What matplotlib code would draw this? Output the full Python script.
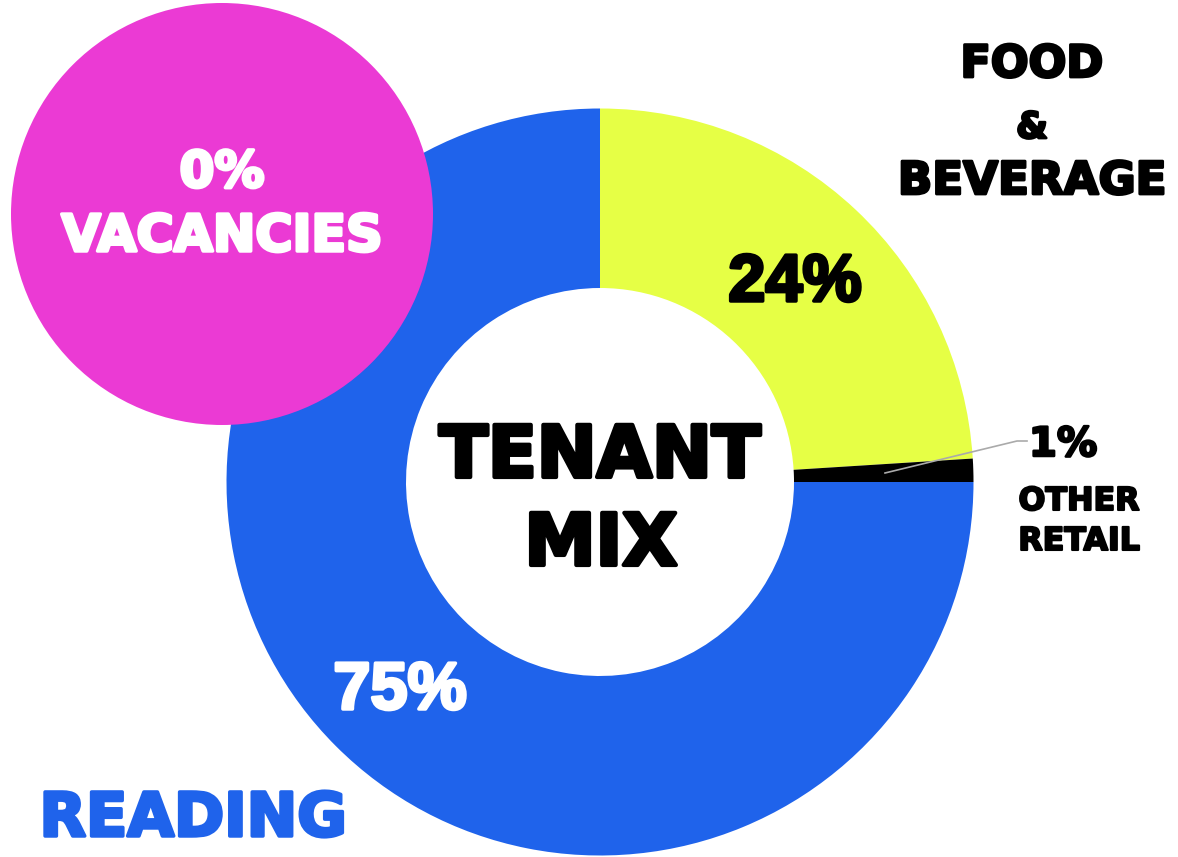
import matplotlib.pyplot as plt
import matplotlib.patheffects as pe
from matplotlib.patches import Circle

# tenant mix shares, clockwise from the top
segmente = ["Food & Beverage", "Other Retail", "Reading"]
andele = [24, 1, 75]
farver = ["#E6FF45", "#000000", "#1F63EB"]
vakance = 0

W, H = 1178, 857

fig = plt.figure(figsize=(W / 100, H / 100), dpi=100)
ax = fig.add_axes([0, 0, 1, 1])


def y(py):
    # billedkoordinat (fra toppen) -> data
    return H - py


def tyk(lw, farve):
    # tykkere skrift, ligner en "black" vægt
    return [pe.Stroke(linewidth=lw, foreground=farve), pe.Normal()]


R = 373.5
r_ind = 194
ax.pie(andele, colors=farver, startangle=90, counterclock=False,
       center=(600, y(482)), radius=R, frame=True,
       wedgeprops=dict(width=R - r_ind, linewidth=0))
ax.set_xlim(0, W)
ax.set_ylim(0, H)
ax.set_aspect("equal")
ax.axis("off")

# pink vacancy circle on top
ax.add_patch(Circle((222, y(214)), 211, color="#EB3AD4", zorder=5, lw=0))

bold = dict(family="DejaVu Sans", fontweight="bold", ha="center", va="baseline")
tal = dict(family="Liberation Sans", fontweight="bold", ha="center", va="baseline")

ax.text(222, y(187), f"{vakance}%", color="white", fontsize=36, zorder=6,
        path_effects=tyk(2.5, "white"), **bold)
ax.text(222, y(251), "VACANCIES", color="white", fontsize=36.5, zorder=6,
        path_effects=tyk(2.5, "white"), **bold)

ax.text(600, y(477), "TENANT", color="black", fontsize=51.5, zorder=6,
        path_effects=tyk(3, "black"), **bold)
ax.text(601, y(565), "MIX", color="black", fontsize=51.5, zorder=6,
        path_effects=tyk(3, "black"), **bold)

ax.text(1032, y(77), "FOOD", color="black", fontsize=32, path_effects=tyk(2, "black"), **bold)
ax.text(1032, y(138), "&", color="black", fontsize=26, path_effects=tyk(2, "black"), **bold)
ax.text(1032, y(194), "BEVERAGE", color="black", fontsize=32.5, path_effects=tyk(2, "black"), **bold)

ax.text(795, y(301), f"{andele[0]}%", color="black", fontsize=48, zorder=6,
        path_effects=tyk(2.5, "black"), **tal)
ax.text(400, y(709), f"{andele[2]}%", color="white", fontsize=48, zorder=6,
        path_effects=tyk(2.5, "white"), **tal)

ax.text(193, y(836), "READING", color="#1F63EB", fontsize=43.5,
        path_effects=tyk(2.5, "#1F63EB"), **bold)

ax.text(1063, y(456), f"{andele[1]}%", color="black", fontsize=29, path_effects=tyk(1.8, "black"), **bold)
ax.text(1079, y(510), "OTHER", color="black", fontsize=22.8, path_effects=tyk(1.5, "black"), **bold)
ax.text(1079, y(550), "RETAIL", color="black", fontsize=22.8, path_effects=tyk(1.5, "black"), **bold)

# leader line to the small slice
ax.plot([885, 1017, 1027], [y(473), y(441), y(441)], color="#AAAAAA", lw=1.2, zorder=6)

fig.savefig("out.png", dpi=100, facecolor="white")
